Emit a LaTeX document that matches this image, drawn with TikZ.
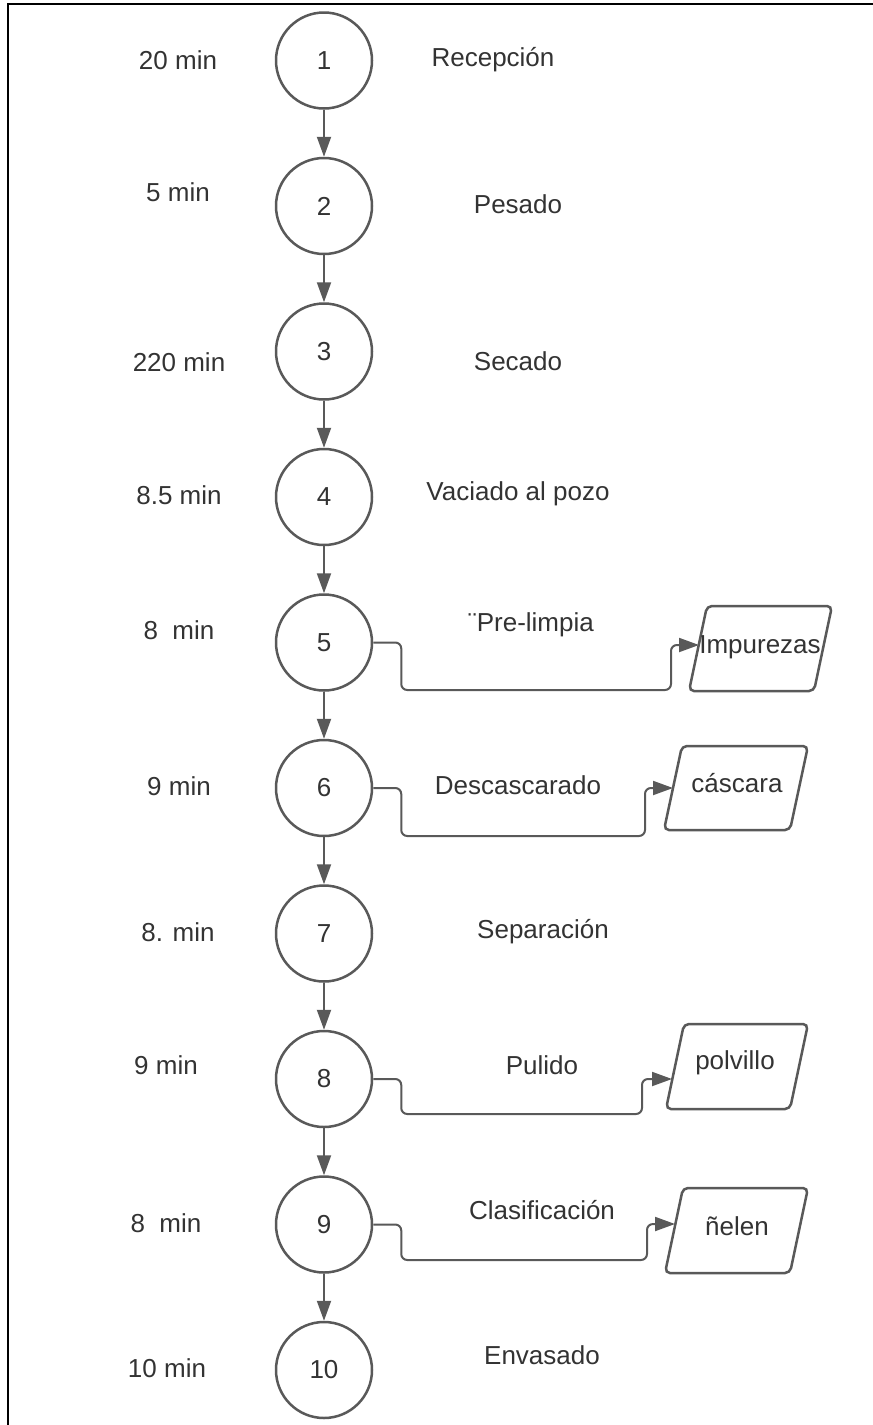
\documentclass[tikz,border=0pt]{standalone}
\usepackage{fontspec}
\setmainfont{Liberation Sans}
\usetikzlibrary{arrows.meta}
\definecolor{flowLine}{HTML}{595959}
\definecolor{flowText}{HTML}{333333}
\tikzset{
  opcircle/.style={circle, draw=flowLine, line width=2.5pt, minimum size=96pt,
    inner sep=0pt, text=flowText, font=\fontsize{26}{30}\selectfont},
  steplabel/.style={text=flowText, inner sep=0pt, font=\fontsize{26}{30}\selectfont},
  flowarrow/.style={draw=flowLine, line width=2pt, -{Triangle[length=20pt,width=14pt]}},
  sidearrow/.style={flowarrow, rounded corners=6pt},
  wastebox/.style={draw=flowLine, line width=2.5pt, rounded corners=5pt},
}
\begin{document}
\begin{tikzpicture}[x=1pt, y=-1pt]
% page and frame
\useasboundingbox (0,0) rectangle (873,1425);
\fill[white] (0,0) rectangle (873,1425);
\draw[black, line width=2.4pt] (8,1440) -- (8,4) -- (890,4);
% operations
\node[opcircle] (c1) at (324,60.5) {1};
\node[opcircle] (c2) at (324,206) {2};
\node[opcircle] (c3) at (324,351.5) {3};
\node[opcircle] (c4) at (324,497) {4};
\node[opcircle] (c5) at (324,642.5) {5};
\node[opcircle] (c6) at (324,788) {6};
\node[opcircle] (c7) at (324,933.5) {7};
\node[opcircle] (c8) at (324,1079) {8};
\node[opcircle] (c9) at (324,1224.5) {9};
\node[opcircle] (c10) at (324,1370) {10};
% times
\node[steplabel] (t1) at (178,60) {20 min};
\node[steplabel] (t2) at (178,192) {5 min};
\node[steplabel] (t3) at (179,362) {220 min};
\node[steplabel] (t4) at (179,495) {8.5 min};
\node[steplabel] (t5) at (179,630) {8\ \ min};
\node[steplabel] (t6) at (179,786) {9 min};
\node[steplabel] (t7) at (178,932) {8. min};
\node[steplabel] (t8) at (166,1065) {9 min};
\node[steplabel] (t9) at (166,1223) {8\ \ min};
\node[steplabel] (t10) at (167,1368) {10 min};
% step names
\node[steplabel] (p1) at (493,60) {Recepción};
\node[steplabel] (p2) at (518,204) {Pesado};
\node[steplabel] (p3) at (518,361) {Secado};
\node[steplabel] (p4) at (518,494) {Vaciado al pozo};
\node[steplabel] (p5) at (531,625) {¨Pre-limpia};
\node[steplabel] (p6) at (518,785) {Descascarado};
\node[steplabel] (p7) at (543,932) {Separación};
\node[steplabel] (p8) at (542,1065) {Pulido};
\node[steplabel] (p9) at (542,1210) {Clasificación};
\node[steplabel] (p10) at (542,1355) {Envasado};
% main flow
\draw[flowarrow] (c1) -- (c2);
\draw[flowarrow] (c2) -- (c3);
\draw[flowarrow] (c3) -- (c4);
\draw[flowarrow] (c4) -- (c5);
\draw[flowarrow] (c5) -- (c6);
\draw[flowarrow] (c6) -- (c7);
\draw[flowarrow] (c7) -- (c8);
\draw[flowarrow] (c8) -- (c9);
\draw[flowarrow] (c9) -- (c10);
% waste outputs
\draw[wastebox] (707,606) -- (832,606) -- (814,691) -- (689,691) -- cycle;
\node[steplabel] (w5) at (760,647) {Impurezas};
\coordinate (w5in) at (699,645);
\coordinate (w5low) at (671,690);
\draw[wastebox] (682,746) -- (808,746) -- (790,830) -- (664,830) -- cycle;
\node[steplabel] (w6) at (737,783) {cáscara};
\coordinate (w6in) at (673,788);
\coordinate (w6low) at (645,836);
\draw[wastebox] (684,1024) -- (808,1024) -- (790,1109) -- (666,1109) -- cycle;
\node[steplabel] (w8) at (735,1063) {polvillo};
\coordinate (w8in) at (672,1079);
\coordinate (w8low) at (642,1114);
\draw[wastebox] (683,1188) -- (808,1188) -- (790,1273) -- (665,1273) -- cycle;
\node[steplabel] (w9) at (737,1226) {ñelen};
\coordinate (w9in) at (675,1224);
\coordinate (w9low) at (647,1260);
\draw[sidearrow] (c5.east) -- ++(28,0) |- (w5low) |- (w5in);
\draw[sidearrow] (c6.east) -- ++(28,0) |- (w6low) |- (w6in);
\draw[sidearrow] (c8.east) -- ++(28,0) |- (w8low) |- (w8in);
\draw[sidearrow] (c9.east) -- ++(28,0) |- (w9low) |- (w9in);
\end{tikzpicture}
\end{document}
